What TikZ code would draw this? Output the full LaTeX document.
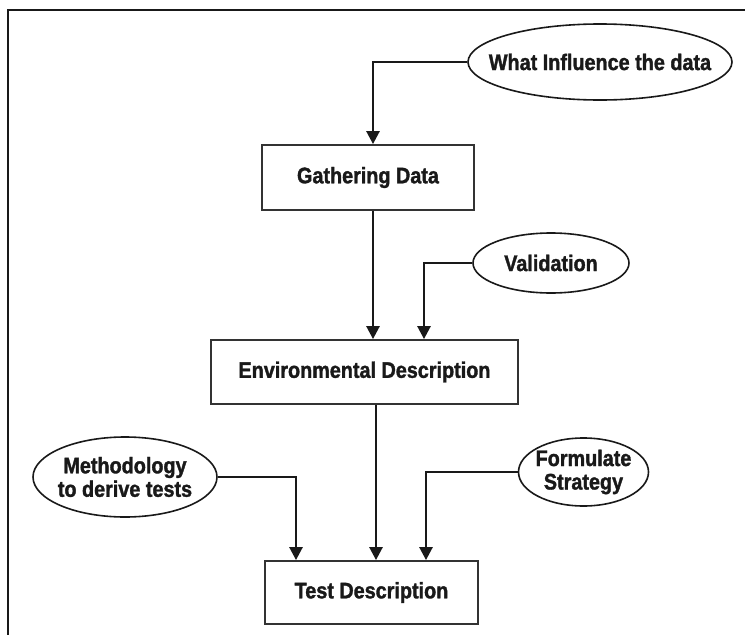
\documentclass[tikz,border=0pt]{standalone}
\usepackage{fontspec}
\setmainfont{Liberation Sans}[FakeStretch=0.88,BoldFeatures={FakeBold=1.5}]
\usetikzlibrary{shapes.geometric,arrows.meta}
\begin{document}
\begin{tikzpicture}[x=1pt,y=-1pt,
  every node/.style={font=\fontsize{22.5}{23.5}\selectfont\bfseries, text=black!90},
  stepbox/.style={draw=black!80, line width=1.8pt, rectangle, inner sep=0pt},
  bubble/.style={draw=black!90, line width=1.6pt, ellipse, inner sep=0pt},
  caption/.style={align=center, inner sep=0pt},
  link/.style={draw=black!90, line width=2.6pt, -{Triangle[width=13pt,length=13pt]}},
  frame/.style={draw=black!90, line width=2.4pt}
]
\useasboundingbox (0,0) rectangle (745,635);
% frame
\coordinate (ftl) at (8,10);
\coordinate (ftr) at (745,10);
\coordinate (fbl) at (8,635);
\draw[frame] (ftr) -- (ftl) -- (fbl);

% ellipses (outline) and their texts
\node[bubble, minimum width=264pt, minimum height=76pt] (infl) at (600,62) {};
\node[caption] (infltxt) at (infl.center) {What Influence the data};
\node[bubble, minimum width=156pt, minimum height=60pt] (valid) at (551,263) {};
\node[caption] (validtxt) at (valid.center) {Validation};
\node[bubble, minimum width=184pt, minimum height=80pt] (method) at (125,477) {};
\node[caption] (methodtxt) at (method.center) {Methodology\\to derive tests};
\node[bubble, minimum width=130pt, minimum height=68pt] (form) at (583.5,472) {};
\node[caption] (formtxt) at (form.center) {Formulate\\Strategy};

% boxes
\node[stepbox, minimum width=212pt, minimum height=65pt] (gather) at (368,177.5) {Gathering Data};
\node[stepbox, minimum width=307pt, minimum height=64pt] (env) at (364.5,372) {Environmental Description};
\node[stepbox, minimum width=213pt, minimum height=63pt] (test) at (371.5,592.5) {Test Description};

% connectors
\draw[link] (infl.west) -| ([xshift=5pt]gather.north);
\draw[link] ([xshift=5pt]gather.south) -- ([xshift=5pt]gather.south |- env.north);
\draw[link] (valid.west) -| ([xshift=59.5pt]env.north);
\draw[link] ([xshift=11.5pt]env.south) -- ([xshift=11.5pt]env.south |- test.north);
\draw[link] (method.east) -| ([xshift=-75.5pt]test.north);
\draw[link] (form.west) -| ([xshift=54.5pt]test.north);
\end{tikzpicture}
\end{document}
